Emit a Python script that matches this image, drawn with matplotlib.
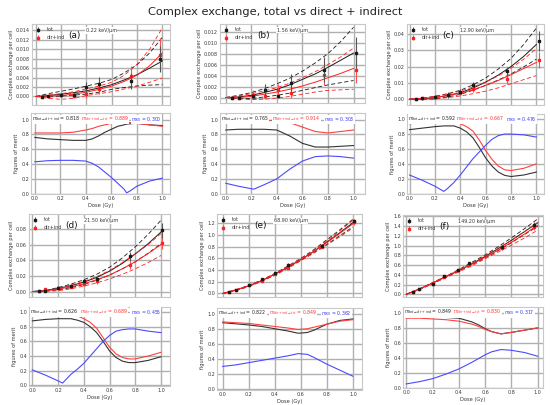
import matplotlib
matplotlib.use("Agg")
import matplotlib.pyplot as plt
import numpy as np

plt.rcParams['font.family'] = ['DejaVu Sans']
plt.rcParams['mathtext.fontset'] = 'dejavusans'

TITLE = "Complex exchange, total vs direct + indirect"
FIT_DOSE = [0.0, 0.1, 0.2, 0.3, 0.4, 0.5, 0.6, 0.7, 0.8, 0.9, 1.0]

# ---------------- panel (a) ----------------
A_LET = "0.22 keV/μm"
A_DOSE = [0.05, 0.1, 0.2, 0.3, 0.4, 0.5, 0.75, 0.98]
A_TOT = [-0.0001, 0.0001, 0.0003, 0.0003, 0.0019, 0.0026, 0.0033, 0.0079]
A_TOT_ERR = [0.0002, 0.0003, 0.0004, 0.0005, 0.0012, 0.0015, 0.0017, 0.0028]
A_DIR = [-0.0001, 0.0, 0.0003, 0.0, 0.0005, 0.0016, 0.0043, 0.0088]
A_DIR_ERR = [0.0002, 0.0003, 0.0004, 0.0004, 0.0008, 0.0010, 0.0022, 0.0035]
A_FIT_TOT = [0, 0.0002, 0.0005, 0.0008, 0.0012, 0.0018, 0.0025, 0.0035, 0.0046, 0.0060, 0.0075]
A_FIT_TOT_HI = [0, 0.0006, 0.0011, 0.0016, 0.0022, 0.0028, 0.0036, 0.0050, 0.0067, 0.0092, 0.0125]
A_FIT_TOT_LO = [0, -0.0001, 0.0001, 0.0003, 0.0005, 0.0009, 0.0015, 0.0019, 0.0022, 0.0024, 0.0025]
A_FIT_DIR = [0, 0.0001, 0.0002, 0.0005, 0.0009, 0.0015, 0.0022, 0.0032, 0.0045, 0.0065, 0.0092]
A_FIT_DIR_HI = [0, 0.0003, 0.0006, 0.0010, 0.0016, 0.0022, 0.0030, 0.0045, 0.0068, 0.0100, 0.0145]
A_FIT_DIR_LO = [0, -0.0004, -0.0006, -0.0004, 0.0002, 0.0006, 0.0010, 0.0016, 0.0022, 0.0030, 0.0039]
A_FOM_DOSE = [0, 0.1, 0.2, 0.3, 0.4, 0.45, 0.5, 0.55, 0.6, 0.65, 0.7, 0.72, 0.75, 0.8, 0.9, 1.0]
A_FOM_TD = [0.76, 0.74, 0.73, 0.72, 0.72, 0.74, 0.78, 0.83, 0.87, 0.91, 0.93, 0.94, 0.945, 0.95, 0.93, 0.92]
A_FOM_DT = [0.82, 0.82, 0.82, 0.83, 0.86, 0.88, 0.91, 0.93, 0.95, 0.96, 0.96, 0.96, 0.96, 0.95, 0.93, 0.91]
A_FOM_KS = [0.43, 0.445, 0.45, 0.45, 0.44, 0.41, 0.36, 0.29, 0.22, 0.14, 0.06, 0.01, 0.04, 0.10, 0.17, 0.21]
A_M = [0.818, 0.889, 0.300]

# ---------------- panel (b) ----------------
B_LET = "1.56 keV/μm"
B_DOSE = [0.05, 0.1, 0.21, 0.31, 0.41, 0.51, 0.77, 1.02]
B_TOT = [0.0, 0.0, 0.0003, 0.0013, 0.0002, 0.0027, 0.0051, 0.0082]
B_TOT_ERR = [0.0002, 0.0002, 0.0005, 0.0011, 0.0003, 0.0016, 0.0022, 0.0029]
B_DIR = [0.0, -0.0001, 0.0005, 0.0003, 0.0014, 0.0008, 0.0041, 0.0051]
B_DIR_ERR = [0.0002, 0.0002, 0.0008, 0.0005, 0.0010, 0.0008, 0.0018, 0.0024]
B_FIT_TOT = [0, 0.0001, 0.0004, 0.0009, 0.0015, 0.0023, 0.0033, 0.0043, 0.0055, 0.0068, 0.0081]
B_FIT_TOT_HI = [0, 0.0004, 0.0009, 0.0016, 0.0025, 0.0035, 0.0048, 0.0063, 0.0080, 0.0102, 0.0128]
B_FIT_TOT_LO = [0, -0.0002, -0.0002, 0.0001, 0.0004, 0.0008, 0.0013, 0.0018, 0.0023, 0.0027, 0.0031]
B_FIT_DIR = [0, 0.0000, 0.0002, 0.0006, 0.0010, 0.0015, 0.0021, 0.0028, 0.0036, 0.0044, 0.0053]
B_FIT_DIR_HI = [0, 0.0003, 0.0007, 0.0012, 0.0018, 0.0026, 0.0036, 0.0047, 0.0060, 0.0074, 0.0090]
B_FIT_DIR_LO = [0, -0.0002, -0.0004, -0.0003, -0.0001, 0.0002, 0.0006, 0.0010, 0.0013, 0.0014, 0.0015]
B_FOM_DOSE = [0, 0.1, 0.22, 0.3, 0.4, 0.5, 0.6, 0.7, 0.8, 0.9, 1.0]
B_FOM_TD = [0.86, 0.87, 0.87, 0.87, 0.86, 0.78, 0.68, 0.63, 0.63, 0.64, 0.65]
B_FOM_DT = [0.99, 0.99, 0.99, 0.99, 0.99, 0.96, 0.90, 0.84, 0.82, 0.84, 0.86]
B_FOM_KS = [0.14, 0.10, 0.06, 0.12, 0.20, 0.33, 0.44, 0.50, 0.51, 0.50, 0.48]
B_M = [0.765, 0.914, 0.303]

# ---------------- panel (c) ----------------
C_LET = "12.90 keV/μm"
C_DOSE = [0.05, 0.1, 0.2, 0.3, 0.4, 0.5, 0.77, 1.02]
C_TOT = [0.0002, 0.0005, 0.0012, 0.0025, 0.0045, 0.0085, 0.0170, 0.0355]
C_TOT_ERR = [0.0005, 0.0007, 0.0010, 0.0020, 0.0015, 0.0020, 0.0030, 0.0060]
C_DIR = [0.0, 0.0005, 0.0015, 0.0027, 0.0040, 0.0060, 0.0125, 0.0240]
C_DIR_ERR = [0.0005, 0.0006, 0.0009, 0.0013, 0.0012, 0.0015, 0.0030, 0.0050]
C_FIT_TOT = [0, 0.0003, 0.0010, 0.0023, 0.0040, 0.0068, 0.0105, 0.0148, 0.0200, 0.0262, 0.0335]
C_FIT_TOT_HI = [0, 0.0006, 0.0018, 0.0034, 0.0055, 0.0088, 0.0130, 0.0185, 0.0250, 0.0335, 0.0435]
C_FIT_TOT_LO = [0, 0.0000, 0.0003, 0.0014, 0.0030, 0.0055, 0.0085, 0.0118, 0.0155, 0.0198, 0.0245]
C_FIT_DIR = [0, 0.0004, 0.0012, 0.0023, 0.0038, 0.0058, 0.0085, 0.0115, 0.0150, 0.0188, 0.0225]
C_FIT_DIR_HI = [0, 0.0007, 0.0018, 0.0032, 0.0050, 0.0075, 0.0105, 0.0143, 0.0190, 0.0245, 0.0310]
C_FIT_DIR_LO = [0, 0.0000, 0.0002, 0.0010, 0.0020, 0.0034, 0.0050, 0.0070, 0.0095, 0.0120, 0.0145]
C_FOM_DOSE = [0, 0.1, 0.2, 0.27, 0.3, 0.35, 0.4, 0.45, 0.5, 0.55, 0.6, 0.65, 0.7, 0.75, 0.8, 0.9, 1.0]
C_FOM_TD = [0.86, 0.88, 0.90, 0.91, 0.91, 0.91, 0.88, 0.83, 0.75, 0.62, 0.48, 0.37, 0.29, 0.245, 0.23, 0.25, 0.29]
C_FOM_DT = [0.94, 0.95, 0.96, 0.97, 0.97, 0.97, 0.94, 0.90, 0.84, 0.72, 0.58, 0.46, 0.37, 0.32, 0.31, 0.34, 0.40]
C_FOM_KS = [0.25, 0.18, 0.10, 0.03, 0.07, 0.15, 0.25, 0.36, 0.47, 0.56, 0.65, 0.73, 0.78, 0.80, 0.80, 0.79, 0.76]
C_M = [0.592, 0.667, 0.476]

# ---------------- panel (d) ----------------
D_LET = "21.50 keV/μm"
D_DOSE = [0.05, 0.1, 0.2, 0.3, 0.4, 0.5, 0.76, 1.01]
D_TOT = [0.0005, 0.0010, 0.0050, 0.0075, 0.0130, 0.0165, 0.0450, 0.0780]
D_TOT_ERR = [0.001, 0.0015, 0.002, 0.0025, 0.003, 0.003, 0.006, 0.010]
D_DIR = [0.0003, 0.0030, 0.0040, 0.0060, 0.0095, 0.0130, 0.0340, 0.0620]
D_DIR_ERR = [0.001, 0.0015, 0.002, 0.002, 0.0025, 0.003, 0.005, 0.008]
D_FIT_TOT = [0, 0.0010, 0.0040, 0.0075, 0.0120, 0.0180, 0.0260, 0.0360, 0.0480, 0.0610, 0.0760]
D_FIT_TOT_HI = [0, 0.0013, 0.0050, 0.0095, 0.0150, 0.0220, 0.0310, 0.0430, 0.0570, 0.0730, 0.0910]
D_FIT_TOT_LO = [0, 0.0005, 0.0020, 0.0050, 0.0090, 0.0145, 0.0210, 0.0290, 0.0380, 0.0490, 0.0610]
D_FIT_DIR = [0, 0.0008, 0.0030, 0.0060, 0.0100, 0.0150, 0.0210, 0.0290, 0.0380, 0.0485, 0.0600]
D_FIT_DIR_HI = [0, 0.0011, 0.0040, 0.0080, 0.0130, 0.0190, 0.0270, 0.0370, 0.0480, 0.0600, 0.0740]
D_FIT_DIR_LO = [0, 0.0003, 0.0010, 0.0035, 0.0070, 0.0110, 0.0160, 0.0220, 0.0290, 0.0370, 0.0460]
D_FOM_DOSE = [0, 0.1, 0.2, 0.235, 0.3, 0.35, 0.4, 0.45, 0.5, 0.55, 0.6, 0.65, 0.7, 0.75, 0.8, 0.9, 1.0]
D_FOM_TD = [0.88, 0.90, 0.91, 0.91, 0.91, 0.89, 0.86, 0.80, 0.72, 0.60, 0.47, 0.38, 0.33, 0.31, 0.31, 0.34, 0.39]
D_FOM_DT = [0.95, 0.96, 0.97, 0.97, 0.97, 0.95, 0.91, 0.86, 0.78, 0.65, 0.52, 0.43, 0.38, 0.36, 0.36, 0.40, 0.45]
D_FOM_KS = [0.21, 0.14, 0.06, 0.03, 0.15, 0.22, 0.30, 0.40, 0.50, 0.60, 0.68, 0.74, 0.76, 0.77, 0.77, 0.74, 0.72]
D_M = [0.626, 0.689, 0.455]

# ---------------- panel (e) ----------------
E_LET = "68.90 keV/μm"
E_DOSE = [0.05, 0.1, 0.2, 0.3, 0.4, 0.5, 0.76, 1.01]
E_TOT = [0.03, 0.06, 0.14, 0.24, 0.35, 0.49, 0.82, 1.24]
E_TOT_ERR = [0.01, 0.01, 0.015, 0.02, 0.02, 0.025, 0.03, 0.04]
E_DIR = [0.03, 0.06, 0.14, 0.22, 0.34, 0.44, 0.80, 1.22]
E_DIR_ERR = [0.01, 0.01, 0.015, 0.02, 0.02, 0.025, 0.03, 0.04]
E_FIT_TOT = [0, 0.06, 0.13, 0.22, 0.33, 0.45, 0.58, 0.72, 0.88, 1.04, 1.21]
E_FIT_TOT_HI = [0, 0.06, 0.14, 0.23, 0.34, 0.47, 0.60, 0.75, 0.92, 1.09, 1.27]
E_FIT_TOT_LO = [0, 0.05, 0.12, 0.21, 0.32, 0.44, 0.57, 0.70, 0.84, 0.99, 1.14]
E_FIT_DIR = [0, 0.06, 0.13, 0.22, 0.33, 0.45, 0.58, 0.72, 0.87, 1.03, 1.19]
E_FIT_DIR_HI = [0, 0.06, 0.14, 0.23, 0.34, 0.46, 0.60, 0.74, 0.90, 1.07, 1.25]
E_FIT_DIR_LO = [0, 0.05, 0.12, 0.21, 0.31, 0.43, 0.56, 0.69, 0.83, 0.97, 1.12]
E_FOM_DOSE = [0, 0.1, 0.2, 0.3, 0.4, 0.5, 0.58, 0.65, 0.7, 0.8, 0.9, 1.0]
E_FOM_TD = [0.88, 0.865, 0.85, 0.83, 0.80, 0.77, 0.74, 0.75, 0.78, 0.86, 0.91, 0.93]
E_FOM_DT = [0.89, 0.88, 0.87, 0.85, 0.83, 0.81, 0.79, 0.80, 0.82, 0.86, 0.90, 0.92]
E_FOM_KS = [0.30, 0.32, 0.35, 0.38, 0.41, 0.44, 0.47, 0.46, 0.42, 0.33, 0.25, 0.17]
E_M = [0.822, 0.849, 0.362]

# ---------------- panel (f) ----------------
F_LET = "149.20 keV/μm"
F_DOSE = [0.05, 0.1, 0.2, 0.29, 0.39, 0.48, 0.73, 0.97]
F_TOT = [0.05, 0.10, 0.22, 0.37, 0.51, 0.635, 0.98, 1.43]
F_TOT_ERR = [0.01, 0.01, 0.015, 0.02, 0.02, 0.025, 0.03, 0.05]
F_DIR = [0.05, 0.10, 0.22, 0.35, 0.49, 0.60, 0.95, 1.38]
F_DIR_ERR = [0.01, 0.01, 0.015, 0.02, 0.02, 0.025, 0.03, 0.05]
F_FIT_TOT = [0, 0.11, 0.23, 0.36, 0.49, 0.63, 0.78, 0.94, 1.11, 1.29, 1.47]
F_FIT_TOT_HI = [0, 0.11, 0.24, 0.37, 0.51, 0.66, 0.81, 0.98, 1.16, 1.35, 1.55]
F_FIT_TOT_LO = [0, 0.10, 0.22, 0.35, 0.48, 0.61, 0.75, 0.90, 1.06, 1.23, 1.40]
F_FIT_DIR = [0, 0.11, 0.23, 0.36, 0.49, 0.62, 0.76, 0.91, 1.07, 1.24, 1.42]
F_FIT_DIR_HI = [0, 0.11, 0.24, 0.37, 0.50, 0.64, 0.79, 0.95, 1.11, 1.29, 1.48]
F_FIT_DIR_LO = [0, 0.10, 0.22, 0.34, 0.46, 0.59, 0.73, 0.87, 1.01, 1.16, 1.32]
F_FOM_DOSE = [0, 0.1, 0.2, 0.3, 0.4, 0.5, 0.55, 0.6, 0.65, 0.72, 0.8, 0.9, 1.0]
F_FOM_TD = [0.95, 0.95, 0.95, 0.94, 0.93, 0.88, 0.84, 0.79, 0.75, 0.72, 0.74, 0.77, 0.80]
F_FOM_DT = [0.93, 0.93, 0.92, 0.91, 0.89, 0.85, 0.82, 0.78, 0.75, 0.72, 0.74, 0.77, 0.80]
F_FOM_KS = [0.05, 0.08, 0.12, 0.18, 0.25, 0.34, 0.39, 0.44, 0.48, 0.51, 0.50, 0.47, 0.42]
F_M = [0.849, 0.830, 0.317]

LABELS = ["(a)", "(b)", "(c)", "(d)", "(e)", "(f)"]

# layout (pixel boxes: left, top, right, bottom) and limits
TOP_BOX = [(32, 24, 170, 105), (220, 24, 365, 103), (407, 24, 544, 105),
           (29, 214, 170, 297), (217, 214, 362, 297), (403, 215, 543, 297)]
BOT_BOX = [(31, 113, 170, 194), (220, 113, 365, 194), (407, 114, 544, 194),
           (29, 307, 170, 386), (217, 308, 362, 390), (403, 307, 543, 388)]
XLIM = [(-0.03, 1.06), (-0.045, 1.09), (-0.02, 1.06), (-0.026, 1.07), (-0.044, 1.07), (-0.025, 1.04)]
YLIM_TOP = [(-0.0018, 0.0153), (-0.001, 0.0134), (-0.0035, 0.046), (-0.007, 0.099), (-0.06, 1.36), (-0.055, 1.63)]
YTICKS_STEP = [0.002, 0.002, 0.01, 0.02, 0.2, 0.2]
YTICKS_MAX = [0.014, 0.012, 0.04, 0.08, 1.2, 1.6]
YLIM_BOT = [(-0.005, 1.09), (-0.005, 1.09), (-0.005, 1.07), (-0.01, 1.07), (-0.013, 1.075), (-0.005, 1.08)]

panels = []
for P in "ABCDEF":
    g = globals()
    panels.append({k: g[P + "_" + k] for k in
                   ["LET", "DOSE", "TOT", "TOT_ERR", "DIR", "DIR_ERR", "FIT_TOT", "FIT_TOT_HI",
                    "FIT_TOT_LO", "FIT_DIR", "FIT_DIR_HI", "FIT_DIR_LO", "FOM_DOSE", "FOM_TD",
                    "FOM_DT", "FOM_KS", "M"]})

W, H = 550, 405
fig = plt.figure(figsize=(W / 100, H / 100), dpi=100)
fig.text(0.5, 1 - 12 / H, TITLE, ha="center", va="center", fontsize=8.2, color="#222222")

GRID = "#b0b0b0"
SPINE = "#c8c8c8"
TXT = "#3a3a3a"
FS = 3.5
BLK = "#1a1a1a"
RED = "#ff2020"
BLUE = "#4a4aff"


def px_axes(box):
    l, t, r, b = box
    return fig.add_axes([l / W, 1 - b / H, (r - l) / W, (b - t) / H])


def style(ax):
    ax.set_facecolor("white")
    ax.grid(True, color=GRID, linewidth=1.0)
    ax.set_axisbelow(True)
    for s in ax.spines.values():
        s.set_color(SPINE)
        s.set_linewidth(0.8)
    ax.tick_params(labelsize=FS, length=0, pad=1.5, colors=TXT)


for i, p in enumerate(panels):
    ax = px_axes(TOP_BOX[i])
    style(ax)
    ax.plot(FIT_DOSE, p["FIT_TOT"], color=BLK, lw=0.7, zorder=3)
    ax.plot(FIT_DOSE, p["FIT_TOT_HI"], color=BLK, lw=0.6, ls=(0, (5, 3)), zorder=3)
    ax.plot(FIT_DOSE, p["FIT_TOT_LO"], color=BLK, lw=0.6, ls=(0, (5, 3)), zorder=3)
    ax.plot(FIT_DOSE, p["FIT_DIR"], color=RED, lw=0.7, zorder=3)
    ax.plot(FIT_DOSE, p["FIT_DIR_HI"], color=RED, lw=0.6, ls=(0, (5, 3)), zorder=3)
    ax.plot(FIT_DOSE, p["FIT_DIR_LO"], color=RED, lw=0.6, ls=(0, (5, 3)), zorder=3)
    ax.errorbar(p["DOSE"], p["TOT"], yerr=p["TOT_ERR"], fmt="s", ms=1.9, color=BLK,
                ecolor="#555555", elinewidth=0.8, capsize=0, label="tot", zorder=5)
    ax.errorbar(p["DOSE"], p["DIR"], yerr=p["DIR_ERR"], fmt="s", ms=1.9, color=RED,
                ecolor="#ff5050", elinewidth=0.8, capsize=0, label="dir+ind", zorder=4)
    ax.set_xlim(*XLIM[i])
    ax.set_ylim(*YLIM_TOP[i])
    ax.set_xticks(np.arange(0, 1.01, 0.2))
    ax.set_xticklabels([])
    ax.set_yticks(np.arange(0, YTICKS_MAX[i] + 1e-9, YTICKS_STEP[i]))
    ax.set_ylabel("Complex exchange per cell", fontsize=3.7, color=TXT, labelpad=1.5)
    leg = ax.legend(loc="upper left", frameon=False, fontsize=FS, handlelength=1.2,
                    handletextpad=1.2, borderaxespad=0.3, labelspacing=0.6)
    for t in leg.get_texts():
        t.set_color(TXT)
    ax.text(0.26, 0.86, LABELS[i], transform=ax.transAxes, fontsize=6.4, color="#111111",
            ha="left", va="center", zorder=6)
    ax.text(0.39, 0.92, p["LET"], transform=ax.transAxes, fontsize=FS, color=TXT,
            ha="left", va="center", zorder=6,
            bbox=dict(facecolor="white", edgecolor="none", pad=0.4))

    bx = px_axes(BOT_BOX[i])
    style(bx)
    bx.plot(p["FOM_DOSE"], p["FOM_TD"], color="#333333", lw=0.8)
    bx.plot(p["FOM_DOSE"], p["FOM_DT"], color="#ff4040", lw=0.8)
    bx.plot(p["FOM_DOSE"], p["FOM_KS"], color=BLUE, lw=0.8)
    bx.set_xlim(*XLIM[i])
    bx.set_ylim(*YLIM_BOT[i])
    bx.set_xticks(np.arange(0, 1.01, 0.2))
    bx.set_yticks(np.arange(0, 1.01, 0.2))
    bx.set_xlabel("Dose (Gy)", fontsize=3.7, color=TXT, labelpad=1.5)
    bx.set_ylabel("figures of merit", fontsize=3.7, color=TXT, labelpad=1.5)
    m = p["M"]
    y_txt = bx.transData.transform((0, 1.0))[1]
    yf = bx.transAxes.inverted().transform((0, y_txt))[1]
    specs = [(0.01, r"$m_{tot\rightarrow dir+ind}$" + " = %.3f" % m[0], "#222222"),
             (0.36, r"$m_{dir+ind\rightarrow tot}$" + " = %.3f" % m[1], "#ff3030"),
             (0.72, r"$m_{KS}$" + " = %.3f" % m[2], "#3030ff")]
    for xf, s, c in specs:
        bx.text(xf, yf, s, transform=bx.transAxes, fontsize=3.3, color=c, ha="left",
                va="center", zorder=6,
                bbox=dict(facecolor="white", edgecolor="none", pad=0.2))

fig.savefig("out.png", dpi=100)
